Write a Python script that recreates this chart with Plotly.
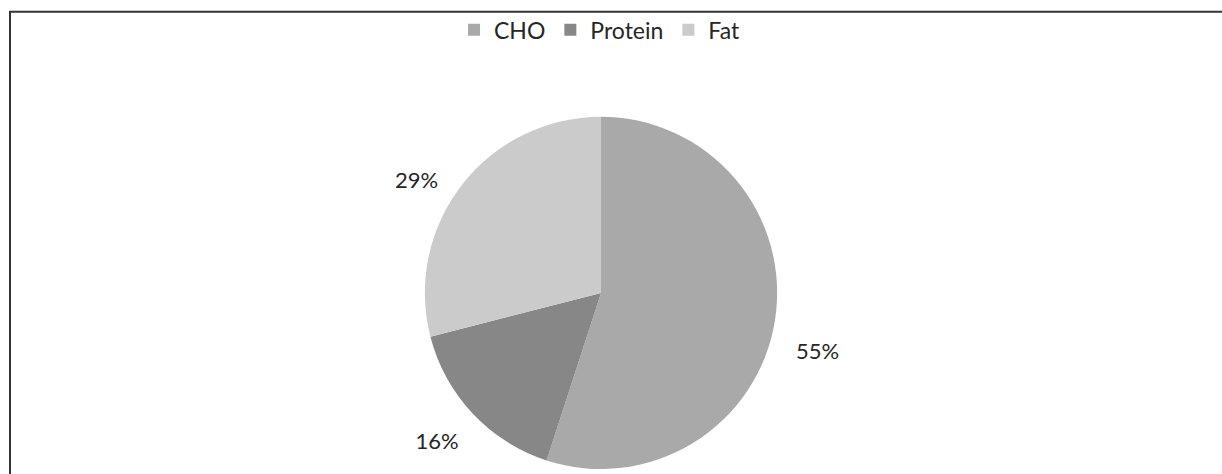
import plotly.graph_objects as go

labels = ["CHO", "Protein", "Fat"]
values = [55, 16, 29]
colors = ["#a9a9a9", "#878787", "#cbcbcb"]
# label formatting (padding nudges the outside labels like the original)
label_templates = [
    "&nbsp;<br>&nbsp;<br>%{percent:.0%}",
    "&nbsp;<br>%{percent:.0%}",
    "%{percent:.0%}&nbsp;&nbsp;&nbsp;",
]

W, H = 1222, 474
FONT = "Lato"

fig = go.Figure(go.Pie(
    labels=labels,
    values=values,
    sort=False,
    direction="clockwise",
    rotation=0,
    marker=dict(colors=colors, line=dict(width=0)),
    textinfo="percent",
    texttemplate=label_templates,
    textposition="outside",
    outsidetextfont=dict(family=FONT, size=22, color="#262626"),
    domain=dict(x=[421 / W, 781 / W], y=[0, 1 - 118 / H]),
    showlegend=True,
    hoverinfo="skip",
))

fig.update_layout(
    width=W, height=H,
    margin=dict(l=0, r=0, t=0, b=0),
    paper_bgcolor="white",
    plot_bgcolor="white",
    font=dict(family=FONT, size=22, color="#262626"),
    legend=dict(
        orientation="h",
        x=0.491, xanchor="center",
        y=1 - 30 / H, yanchor="middle",
        font=dict(family=FONT, size=23, color="#262626"),
        bgcolor="rgba(0,0,0,0)",
        itemwidth=30,
        traceorder="normal",
    ),
    shapes=[dict(
        type="rect", xref="paper", yref="paper",
        x0=10 / W, x1=1.05, y0=-0.05, y1=1 - 12 / H,
        line=dict(color="#333333", width=2),
        fillcolor="rgba(0,0,0,0)",
        layer="above",
    )],
)

fig.write_html(
    "out.html",
    config={"displayModeBar": False},
    post_script="document.body.style.margin='0';document.body.style.overflow='hidden';",
)
